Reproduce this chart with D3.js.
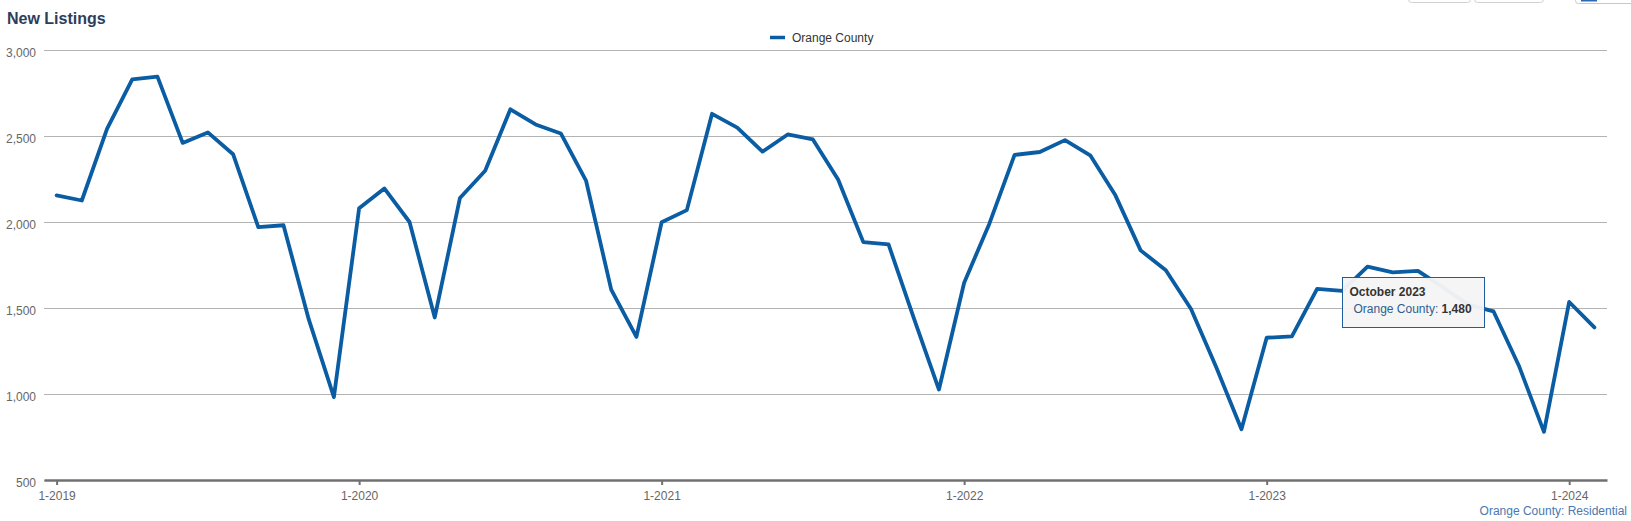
<!DOCTYPE html>
<html>
<head>
<meta charset="utf-8">
<script src="https://cdn.jsdelivr.net/npm/d3@7"></script>
<style>
  html, body { margin: 0; padding: 0; background: #fff; }
  svg { display: block; font-family: "Liberation Sans", Arial, sans-serif; }
</style>
</head>
<body>
<svg id="chart" width="1631" height="521"></svg>
<script>
// ---- data ----
const months = [
  "Jan 2019","Feb 2019","Mar 2019","Apr 2019","May 2019","Jun 2019","Jul 2019","Aug 2019","Sep 2019","Oct 2019","Nov 2019","Dec 2019",
  "Jan 2020","Feb 2020","Mar 2020","Apr 2020","May 2020","Jun 2020","Jul 2020","Aug 2020","Sep 2020","Oct 2020","Nov 2020","Dec 2020",
  "Jan 2021","Feb 2021","Mar 2021","Apr 2021","May 2021","Jun 2021","Jul 2021","Aug 2021","Sep 2021","Oct 2021","Nov 2021","Dec 2021",
  "Jan 2022","Feb 2022","Mar 2022","Apr 2022","May 2022","Jun 2022","Jul 2022","Aug 2022","Sep 2022","Oct 2022","Nov 2022","Dec 2022",
  "Jan 2023","Feb 2023","Mar 2023","Apr 2023","May 2023","Jun 2023","Jul 2023","Aug 2023","Sep 2023","Oct 2023","Nov 2023","Dec 2023",
  "Jan 2024","Feb 2024"
];
const orangeCounty = [
  2155, 2125, 2542, 2829, 2845, 2460, 2521, 2394, 1970, 1981, 1435, 982,
  2080, 2195, 2000, 1445, 2140, 2298, 2655, 2567, 2515, 2241, 1607, 1332,
  1999, 2069, 2629, 2549, 2409, 2509, 2480, 2247, 1883, 1870, 1443, 1026,
  1647, 1990, 2390, 2407, 2476, 2388, 2155, 1835, 1720, 1494, 1155, 795,
  1327, 1335, 1611, 1599, 1741, 1707, 1716, 1620, 1520, 1480, 1166, 780,
  1535, 1387
];
const xTickIndex = [0, 12, 24, 36, 48, 60];
const xTickLabels = ["1-2019", "1-2020", "1-2021", "1-2022", "1-2023", "1-2024"];
const yTicks = [500, 1000, 1500, 2000, 2500, 3000];
const seriesName = "Orange County";
const chartTitle = "New Listings";
const creditText = "Orange County: Residential";
const tooltipIndex = 57;
const tooltipLabel = "October 2023";

// ---- layout ----
const svg = d3.select("#chart");
const plotLeft = 44, plotRight = 1607, plotTop = 50, plotBottom = 480;
const lineColor = "#0a5ca3";

const x = d3.scaleLinear().domain([-0.5, orangeCounty.length - 0.5]).range([plotLeft, plotRight]);
const y = d3.scaleLinear().domain([500, 3000]).range([plotBottom, plotTop]);

// top-right partial buttons
const btns = svg.append("g");
btns.append("rect").attr("x", 1408.5).attr("y", -20).attr("width", 62).attr("height", 22.5).attr("rx", 3)
  .attr("fill", "#fff").attr("stroke", "#d0d0d0");
btns.append("rect").attr("x", 1474.5).attr("y", -20).attr("width", 69).attr("height", 22.5).attr("rx", 3)
  .attr("fill", "#fff").attr("stroke", "#d0d0d0");
btns.append("rect").attr("x", 1575.5).attr("y", -20).attr("width", 70).attr("height", 23.5).attr("rx", 3)
  .attr("fill", "#fff").attr("stroke", "#c8c8c8");
btns.append("rect").attr("x", 1581).attr("y", -10).attr("width", 16).attr("height", 11.5)
  .attr("fill", "#2a6bb5");

// title
svg.append("text").attr("x", 7).attr("y", 24)
  .attr("font-size", 16).attr("font-weight", "bold").attr("fill", "#2b3e5c")
  .text(chartTitle);

// legend
const lg = svg.append("g");
lg.append("line").attr("x1", 770).attr("x2", 785).attr("y1", 37.5).attr("y2", 37.5)
  .attr("stroke", lineColor).attr("stroke-width", 3.5);
lg.append("text").attr("x", 792).attr("y", 41.5).attr("font-size", 12).attr("fill", "#333")
  .text(seriesName);

// y gridlines + labels
const yAxis = d3.axisLeft(y).tickValues(yTicks).tickFormat(d3.format(","))
  .tickSize(-(plotRight - plotLeft)).tickPadding(8);
const gy = svg.append("g").attr("transform", `translate(${plotLeft},0)`).call(yAxis);
gy.select(".domain").remove();
gy.selectAll(".tick line").attr("stroke", "#b3b3b3").attr("stroke-width", 1)
  .attr("shape-rendering", "crispEdges");
gy.selectAll(".tick text").attr("font-size", 12).attr("fill", "#666").attr("dy", "0.57em")
  .attr("font-family", "'Liberation Sans', Arial, sans-serif");

// x axis
const xAxis = d3.axisBottom(x).tickValues(xTickIndex)
  .tickFormat((d, i) => xTickLabels[i]).tickSizeInner(5).tickSizeOuter(0).tickPadding(6.5);
const gx = svg.append("g").attr("transform", `translate(0,${plotBottom})`).call(xAxis);
gx.select(".domain").attr("stroke", "#707070").attr("stroke-width", 2.5);
gx.selectAll(".tick line").attr("stroke", "#707070").attr("stroke-width", 2);
gx.selectAll(".tick text").attr("font-size", 12).attr("fill", "#666")
  .attr("font-family", "'Liberation Sans', Arial, sans-serif");

// line
const line = d3.line().x((d, i) => x(i)).y(d => y(d));
svg.append("path").datum(orangeCounty).attr("d", line)
  .attr("fill", "none").attr("stroke", lineColor).attr("stroke-width", 3.8)
  .attr("stroke-linejoin", "round").attr("stroke-linecap", "round");

// tooltip
const tt = svg.append("g").attr("transform", "translate(1342.5,277.5)");
tt.append("rect").attr("width", 142).attr("height", 50)
  .attr("fill", "#f5f5f5").attr("fill-opacity", 0.96).attr("stroke", "#1f5d9e").attr("stroke-width", 1);
tt.append("text").attr("x", 7).attr("y", 18).attr("font-size", 12).attr("font-weight", "bold")
  .attr("fill", "#333").text(tooltipLabel);
const t2 = tt.append("text").attr("x", 11).attr("y", 35).attr("font-size", 12);
t2.append("tspan").attr("fill", "#2f5d8f").text(seriesName + ": ");
t2.append("tspan").attr("fill", "#333").attr("font-weight", "bold")
  .text(d3.format(",")(orangeCounty[tooltipIndex]));

// credit
svg.append("text").attr("x", 1627).attr("y", 515).attr("text-anchor", "end")
  .attr("font-size", 12).attr("fill", "#4a78b0").text(creditText);
</script>
</body>
</html>
